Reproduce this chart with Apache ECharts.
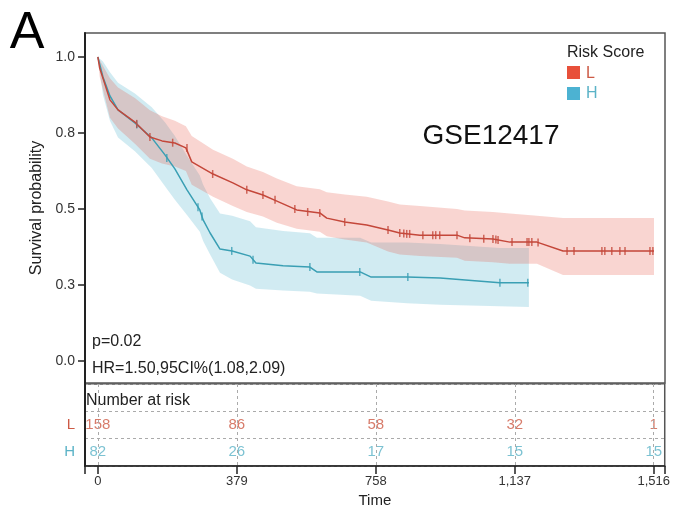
<!DOCTYPE html>
<html>
<head>
<meta charset="utf-8">
<script src="https://cdn.jsdelivr.net/npm/echarts@6/dist/echarts.min.js"></script>
<style>
  html, body { margin: 0; padding: 0; background: #fff; }
  #chart { width: 673px; height: 512px; }
</style>
</head>
<body>
<div id="chart"></div>
<script>
// Kaplan–Meier estimates, low risk group (L)
const lowTime  = [0, 5, 33, 55, 101, 142, 175, 210, 240, 256, 314, 368, 406, 450, 488, 542, 605, 624, 673, 733, 791, 823, 878, 979, 1000, 1077, 1123, 1197, 1268, 1516];
const lowSurv  = [1, 0.964, 0.859, 0.826, 0.786, 0.737, 0.724, 0.717, 0.701, 0.655, 0.615, 0.586, 0.563, 0.546, 0.526, 0.497, 0.487, 0.470, 0.457, 0.447, 0.431, 0.421, 0.414, 0.414, 0.405, 0.401, 0.391, 0.391, 0.362, 0.362];
const lowUpper = [1, 0.99, 0.93, 0.9, 0.865, 0.825, 0.805, 0.79, 0.772, 0.74, 0.695, 0.665, 0.64, 0.622, 0.60, 0.575, 0.565, 0.555, 0.548, 0.54, 0.525, 0.515, 0.51, 0.50, 0.495, 0.49, 0.485, 0.478, 0.47, 0.47];
const lowLower = [1, 0.935, 0.80, 0.765, 0.715, 0.665, 0.65, 0.64, 0.625, 0.58, 0.54, 0.51, 0.49, 0.475, 0.455, 0.435, 0.425, 0.41, 0.40, 0.39, 0.36, 0.35, 0.345, 0.34, 0.33, 0.325, 0.32, 0.32, 0.283, 0.283];
const lowCensorTime = [106, 142, 204, 243, 313, 406, 450, 483, 537, 572, 605, 673, 791, 823, 834, 842, 850, 886, 913, 921, 932, 979, 1014, 1052, 1077, 1085, 1091, 1129, 1170, 1175, 1183, 1200, 1279, 1298, 1374, 1382, 1401, 1423, 1437, 1505, 1513];
const lowCensorSurv = [0.780, 0.737, 0.718, 0.701, 0.615, 0.563, 0.546, 0.530, 0.500, 0.490, 0.487, 0.457, 0.431, 0.421, 0.419, 0.418, 0.418, 0.414, 0.414, 0.414, 0.414, 0.414, 0.404, 0.402, 0.401, 0.400, 0.398, 0.391, 0.391, 0.391, 0.391, 0.390, 0.362, 0.362, 0.362, 0.362, 0.362, 0.362, 0.362, 0.362, 0.362];

// Kaplan–Meier estimates, high risk group (H)
const highTime  = [0, 14, 33, 55, 101, 147, 183, 210, 243, 278, 287, 306, 333, 366, 415, 431, 505, 578, 597, 715, 745, 843, 933, 1096, 1175];
const highSurv  = [1, 0.934, 0.872, 0.826, 0.783, 0.734, 0.678, 0.632, 0.563, 0.497, 0.464, 0.421, 0.368, 0.362, 0.345, 0.322, 0.313, 0.309, 0.293, 0.293, 0.276, 0.276, 0.273, 0.257, 0.257];
const highUpper = [1, 0.985, 0.95, 0.915, 0.88, 0.835, 0.785, 0.74, 0.675, 0.61, 0.58, 0.535, 0.485, 0.478, 0.46, 0.44, 0.428, 0.42, 0.405, 0.405, 0.39, 0.39, 0.385, 0.372, 0.372];
const highLower = [1, 0.875, 0.79, 0.735, 0.69, 0.635, 0.575, 0.53, 0.48, 0.425, 0.395, 0.35, 0.29, 0.268, 0.248, 0.238, 0.232, 0.228, 0.222, 0.215, 0.198, 0.19, 0.185, 0.18, 0.178];
const highCensorTime = [106, 188, 273, 284, 365, 423, 578, 714, 845, 1096, 1172];
const highCensorSurv = [0.778, 0.668, 0.506, 0.475, 0.362, 0.333, 0.309, 0.293, 0.276, 0.257, 0.257];

// Number at risk table
const riskTimes = [0, 379, 758, 1137, 1516];
const riskLow   = [158, 86, 58, 32, 1];
const riskHigh  = [82, 26, 17, 15, 15];
const riskRows  = ['Number at risk', 'L', 'H'];

// Axis ticks
const xTickLabels = ['0', '379', '758', '1,137', '1,516'];
const yTickValues = [0, 0.25, 0.5, 0.75, 1];
const yTickLabels = ['0.0', '0.3', '0.5', '0.8', '1.0'];

const RED_LINE = '#c4473a', RED_FILL = 'rgba(232,80,62,0.24)', RED_TEXT = '#cd5a45', RED_KEY = '#e8503a';
const CYAN_LINE = '#3a9fb4', CYAN_FILL = 'rgba(70,175,205,0.25)', CYAN_TEXT = '#5bb3c7', CYAN_KEY = '#4cb2d2';
const FONT = 'Liberation Sans, Arial, Helvetica, sans-serif';
const X_MIN = -35, X_MAX = 1546;

// Confidence band drawn as one polygon: upper edge forward, lower edge backward
function bandSeries(times, upper, lower, fill) {
  return {
    type: 'custom',
    xAxisIndex: 0, yAxisIndex: 0,
    silent: true, z: 1,
    data: [[times[0], upper[0]]],
    renderItem: function (params, api) {
      const pts = [];
      for (let i = 0; i < times.length; i++) pts.push(api.coord([times[i], upper[i]]));
      for (let i = times.length - 1; i >= 0; i--) pts.push(api.coord([times[i], lower[i]]));
      return { type: 'polygon', shape: { points: pts }, style: { fill: fill } };
    }
  };
}

function zip(a, b) { return a.map((v, i) => [v, b[i]]); }

const chart = echarts.init(document.getElementById('chart'), null, { renderer: 'canvas' });

chart.setOption({
  animation: false,
  textStyle: { fontFamily: FONT },
  grid: [
    { left: 85, top: 33, width: 580, height: 350, show: true, borderColor: '#555', borderWidth: 1.5, backgroundColor: 'transparent' },
    { left: 85, top: 384, width: 580, height: 82, show: true, borderColor: '#555', borderWidth: 1.5, backgroundColor: 'transparent' }
  ],
  xAxis: [
    { type: 'value', gridIndex: 0, min: X_MIN, max: X_MAX, axisLine: { show: false, onZero: false }, axisTick: { show: false }, axisLabel: { show: false }, splitLine: { show: false } },
    {
      type: 'value', gridIndex: 1, min: X_MIN, max: X_MAX,
      axisLine: { show: true, onZero: false, lineStyle: { color: '#222', width: 1.5 } },
      axisTick: { show: true, length: 8, customValues: [X_MIN].concat(riskTimes, [X_MAX]), lineStyle: { color: '#222', width: 1.5 } },
      axisLabel: { show: true, customValues: riskTimes, formatter: v => xTickLabels[riskTimes.indexOf(v)], fontSize: 13, color: '#333', margin: 9, fontFamily: FONT },
      splitLine: { show: false },
      name: 'Time', nameLocation: 'middle', nameGap: 27,
      nameTextStyle: { fontSize: 15, color: '#222', fontFamily: FONT }
    }
  ],
  yAxis: [
    {
      type: 'value', gridIndex: 0, min: -0.0724, max: 1.0789,
      axisLine: { show: true, onZero: false, lineStyle: { color: '#222', width: 2 } },
      axisTick: { show: true, length: 7, customValues: yTickValues, lineStyle: { color: '#222', width: 1.5 } },
      axisLabel: { show: true, customValues: yTickValues, formatter: v => yTickLabels[yTickValues.indexOf(v)], fontSize: 14, color: '#333', margin: 10, fontFamily: FONT },
      splitLine: { show: false },
      name: 'Survival probability', nameLocation: 'middle', nameGap: 36,
      nameTextStyle: { fontSize: 16, color: '#222', fontFamily: FONT }
    },
    {
      type: 'category', gridIndex: 1, data: riskRows, inverse: true,
      axisLine: { show: true, onZero: false, lineStyle: { color: '#222', width: 2 } },
      axisTick: { show: false },
      axisLabel: {
        show: true, margin: 10, fontSize: 15, fontFamily: FONT,
        formatter: v => v === 'L' ? '{l|L}' : (v === 'H' ? '{h|H}' : ''),
        rich: { l: { color: RED_TEXT, fontSize: 15 }, h: { color: CYAN_TEXT, fontSize: 15 } }
      },
      splitLine: { show: true, lineStyle: { color: '#aaa', type: [3, 3], width: 1 } }
    }
  ],
  series: [
    bandSeries(highTime, highUpper, highLower, CYAN_FILL),
    bandSeries(lowTime, lowUpper, lowLower, RED_FILL),
    {
      type: 'line', name: 'H', xAxisIndex: 0, yAxisIndex: 0, z: 3,
      data: zip(highTime, highSurv), showSymbol: false, symbol: 'none',
      lineStyle: { color: CYAN_LINE, width: 1.5 }
    },
    {
      type: 'line', name: 'L', xAxisIndex: 0, yAxisIndex: 0, z: 3,
      data: zip(lowTime, lowSurv), showSymbol: false, symbol: 'none',
      lineStyle: { color: RED_LINE, width: 1.5 }
    },
    {
      type: 'scatter', xAxisIndex: 0, yAxisIndex: 0, z: 4, silent: true,
      data: zip(highCensorTime, highCensorSurv), symbol: 'rect', symbolSize: [1.5, 8],
      itemStyle: { color: CYAN_LINE }
    },
    {
      type: 'scatter', xAxisIndex: 0, yAxisIndex: 0, z: 4, silent: true,
      data: zip(lowCensorTime, lowCensorSurv), symbol: 'rect', symbolSize: [1.5, 8],
      itemStyle: { color: RED_LINE }
    },
    {
      type: 'scatter', xAxisIndex: 1, yAxisIndex: 1, z: 4, silent: true,
      data: riskTimes.map((t, i) => [t, 1, riskLow[i]]),
      symbolSize: 1, itemStyle: { color: 'transparent' },
      label: { show: true, position: 'inside', formatter: p => String(p.value[2]), color: RED_TEXT, fontSize: 15, fontFamily: FONT },
      markLine: {
        silent: true, symbol: ['none', 'none'], label: { show: false },
        lineStyle: { color: '#aaa', type: [3, 3], width: 1 },
        data: riskTimes.map(t => ({ xAxis: t }))
      }
    },
    {
      type: 'scatter', xAxisIndex: 1, yAxisIndex: 1, z: 4, silent: true,
      data: riskTimes.map((t, i) => [t, 2, riskHigh[i]]),
      symbolSize: 1, itemStyle: { color: 'transparent' },
      label: { show: true, position: 'inside', formatter: p => String(p.value[2]), color: CYAN_TEXT, fontSize: 15, fontFamily: FONT }
    }
  ],
  graphic: [
    { type: 'text', x: 27, y: 34, style: { text: 'A', fontSize: 52, fontFamily: FONT, fill: '#000', align: 'center', verticalAlign: 'middle' } },
    { type: 'text', x: 491, y: 136, style: { text: 'GSE12417', fontSize: 28, fontFamily: FONT, fill: '#111', align: 'center', verticalAlign: 'middle' } },
    { type: 'text', x: 567, y: 53, style: { text: 'Risk Score', fontSize: 16, fontFamily: FONT, fill: '#222', align: 'left', verticalAlign: 'middle' } },
    { type: 'rect', shape: { x: 567, y: 66, width: 13, height: 13 }, style: { fill: RED_KEY } },
    { type: 'rect', shape: { x: 567, y: 87, width: 13, height: 13 }, style: { fill: CYAN_KEY } },
    { type: 'text', x: 586, y: 74, style: { text: 'L', fontSize: 16, fontFamily: FONT, fill: RED_TEXT, align: 'left', verticalAlign: 'middle' } },
    { type: 'text', x: 586, y: 94, style: { text: 'H', fontSize: 16, fontFamily: FONT, fill: CYAN_TEXT, align: 'left', verticalAlign: 'middle' } },
    { type: 'text', x: 92, y: 342, style: { text: 'p=0.02', fontSize: 16, fontFamily: FONT, fill: '#222', align: 'left', verticalAlign: 'middle' } },
    { type: 'text', x: 92, y: 369, style: { text: 'HR=1.50,95CI%(1.08,2.09)', fontSize: 16, fontFamily: FONT, fill: '#222', align: 'left', verticalAlign: 'middle' } },
    { type: 'text', x: 86, y: 401, style: { text: 'Number at risk', fontSize: 16, fontFamily: FONT, fill: '#222', align: 'left', verticalAlign: 'middle' } }
  ]
});
</script>
</body>
</html>
